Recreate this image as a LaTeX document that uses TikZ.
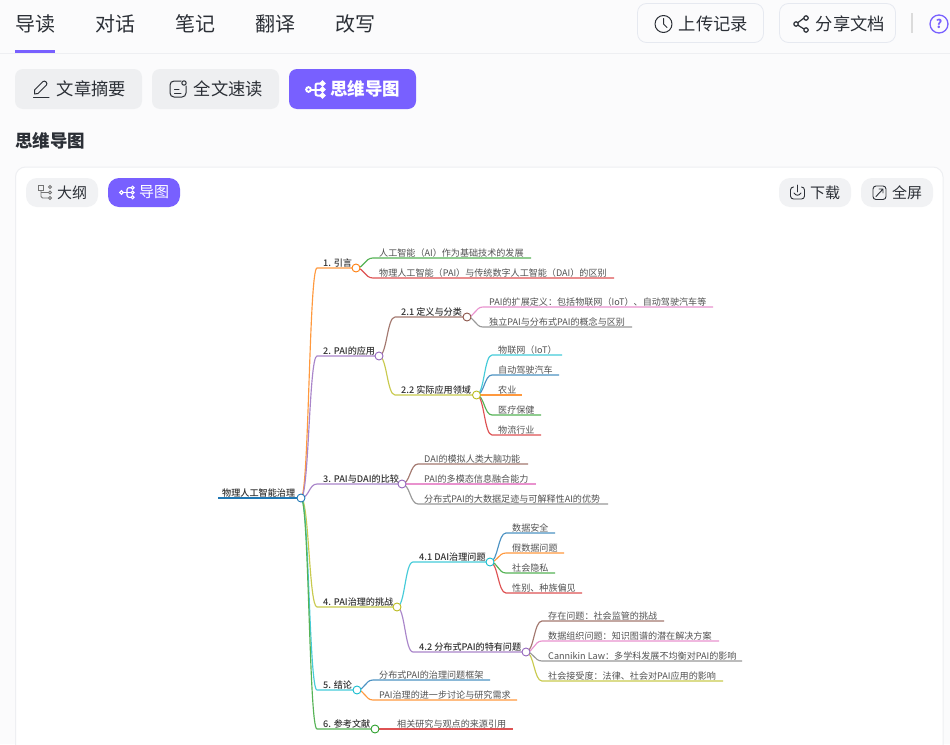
\documentclass[tikz,border=0pt]{standalone}
\usepackage{fontspec}
\setmainfont{Noto Sans CJK SC}
\newfontfamily\mmmed{Noto Sans CJK SC Medium}
\usetikzlibrary{backgrounds,calc}
\definecolor{cblue}{HTML}{1F77B4}
\definecolor{corange}{HTML}{FF7F0E}
\definecolor{cgreen}{HTML}{2CA02C}
\definecolor{cred}{HTML}{D62728}
\definecolor{cpurple}{HTML}{9467BD}
\definecolor{cbrown}{HTML}{8C564B}
\definecolor{cpink}{HTML}{E377C2}
\definecolor{cgray}{HTML}{7F7F7F}
\definecolor{colive}{HTML}{BCBD22}
\definecolor{ccyan}{HTML}{17BECF}
\definecolor{brand}{HTML}{7860FF}
\definecolor{pagebg}{HTML}{FBFBFC}
\definecolor{rulec}{HTML}{EEEFF2}
\definecolor{inkc}{HTML}{2B2F36}
\definecolor{btnc}{HTML}{EEEFF1}
\definecolor{chipc}{HTML}{F1F2F4}
\definecolor{btnline}{HTML}{E6E9F0}
\tikzset{
  tab/.style={anchor=center,inner sep=0pt,font=\fontsize{20}{24}\selectfont,text=inkc},
  btnbox/.style={rounded corners=9pt,draw=btnline,line width=.8pt,fill=pagebg},
  fillbox/.style={rounded corners=8pt,fill=#1},
  chipbox/.style={rounded corners=11pt,fill=#1},
  lbl/.style={anchor=center,inner sep=0pt,font=\fontsize{17.3}{20}\selectfont,text=inkc},
  chiplbl/.style={anchor=center,inner sep=0pt,font=\fontsize{15}{18}\selectfont,text=inkc},
  ico/.style={draw=inkc,line width=1pt,line cap=round,line join=round},
  mmdotstyle/.style={circle,draw=#1,fill=white,line width=.9pt,minimum size=8pt,inner sep=0pt},
  mmleaf/.style={anchor=base west,inner sep=0pt,font=\fontsize{9.08}{11}\selectfont,text=black!68},
  mmhead/.style={anchor=base west,inner sep=0pt,font=\fontsize{9.12}{11}\selectfont\mmmed,text=black!80},
  mmlink/.style={draw=#1!80,line width=1.15pt,line join=round},
}
% name, x, y, colour
\newcommand\mmdot[4]{\node[mmdotstyle=#4] (#1) at (#2,#3) {};}
% name, parent, colour, line y, line x start, line x end, text x, text style, text
\newcommand\mmtopic[9]{%
  \node[#8] (t#1) at (#7,#4-2) {#9};
  \coordinate (s#1) at (#5,#4);
  \coordinate (e#1) at (#6,#4);
  \begin{pgfonlayer}{background}
    \draw[mmlink=#3] let \p1=(#2.center),\p2=(s#1) in
      (#2.center) .. controls ({(\x1+\x2)/2},\y1) and ({(\x1+\x2)/2},\y2) .. (s#1) -- (e#1);
  \end{pgfonlayer}}
% mind icon: x, y, colour, scale, width
\newcommand\mmicon[5]{%
  \begin{scope}[shift={(#1,#2)},scale=#4]
    \draw[draw=#3,line width=#5,rounded corners=2pt] (5.2,-6) -- (0,-6) -- (0,6) -- (5.2,6);
    \draw[draw=#3,line width=#5] (-5,0) -- (5.2,0);
    \foreach \a/\b/\r in {-7/0/2.3,7/-6/1.9,7/0/1.9,7/6/1.9}
      \draw[draw=#3,line width=#5] (\a,\b) circle[radius=\r pt];
  \end{scope}}
\begin{document}
\begin{tikzpicture}[x=1pt,y=-1pt]
\useasboundingbox (0,0) rectangle (950,744);
\begin{pgfonlayer}{background}
\fill[pagebg] (0,0) rectangle (950,744);
% card
\path[fill=white,draw=rulec,line width=1pt] (15.5,745) -- (15.5,177) arc[start angle=180,end angle=90,radius=10pt] -- (933,167) arc[start angle=90,end angle=0,radius=10pt] -- (943,745);
\end{pgfonlayer}
% header
\draw[rulec,line width=1pt] (0,53) -- (950,53);
\fill[brand] (15,50) rectangle (55,53);
\node[tab] (tabA) at (35,24) {导读};
\node[tab] (tabB) at (115,24) {对话};
\node[tab] (tabC) at (195,24) {笔记};
\node[tab] (tabD) at (275,24) {翻译};
\node[tab] (tabE) at (355,24) {改写};
\path[btnbox] (637.5,3.5) rectangle (763.5,42.5);
\path[btnbox] (779.5,3.5) rectangle (895.5,42.5);
\draw[ico] (663.5,24) circle[radius=8.5pt];
\draw[ico] (663.5,18.5) -- (663.5,24) -- (667,27.5);
\node[lbl] (btnUp) at (713.5,24) {上传记录};
\draw[ico,line width=1.2pt] (804,18) -- (796,24) -- (804,29);
\foreach \a/\b in {806/18,796/24,806/30} \draw[ico,line width=1.2pt,fill=pagebg] (\a,\b) circle[radius=2.2pt];
\node[lbl] (btnShare) at (850.5,24) {分享文档};
\fill[black!14] (911,13) rectangle (913,33);
\draw[brand,line width=1.3pt] (939,24) circle[radius=9pt];
\node[anchor=center,inner sep=0pt,text=brand,font=\fontsize{12}{14}\selectfont\bfseries] (helpq) at (939,24) {?};
% second row
\path[fillbox=btnc] (15,69) rectangle (142,109);
\path[fillbox=btnc] (152,69) rectangle (279,109);
\path[fillbox=brand] (289,69) rectangle (416,109);
\draw[ico] (34.5,90) -- (43,81.5) .. controls (45,80) and (48,83) .. (46.5,85) -- (38,93.5) -- (34.5,94) -- cycle;
\draw[ico] (33.5,97) -- (49,97);
\node[lbl] (btnA) at (91.5,88.5) {文章摘要};
\draw[ico,rounded corners=4pt] (181,81) -- (170,81) -- (170,97) -- (186,97) -- (186,86);
\draw[ico] (184,83) circle[radius=2.2pt];
\draw[ico] (174.5,89) -- (179,89) (174.5,93) -- (181,93);
\node[lbl] (btnB) at (228.5,88.5) {全文速读};
\mmicon{315.5}{89.5}{white}{1}{2pt}
\node[lbl,text=white,font=\fontsize{17.5}{20}\selectfont\bfseries] (btnC) at (365,88.5) {思维导图};
\node[anchor=center,inner sep=0pt,text=inkc,font=\fontsize{17.5}{20}\selectfont\bfseries] (heading) at (50,141) {思维导图};
% card chips
\path[chipbox=chipc] (26,178) rectangle (98,207);
\draw[draw=black!55,line width=.9pt] (38,185) rectangle (43,190);
\draw[draw=black!55,line width=.9pt,rounded corners=1.5pt] (41,190) -- (41,198) -- (48,198);
\foreach \b in {187,192.5,198} \draw[draw=black!55,line width=.9pt,fill=chipc] (50,\b) circle[radius=1.6pt];
\draw[draw=black!55,line width=.9pt] (41,192.5) -- (48,192.5);
\node[chiplbl] (chipA) at (72,192.5) {大纲};
\path[chipbox=brand] (108,178) rectangle (180,207);
\mmicon{127}{192.5}{white}{.8}{1.1pt}
\node[chiplbl,text=white] (chipB) at (154,192.5) {导图};
\path[chipbox=chipc] (779,178) rectangle (851,207);
\draw[ico,line width=.9pt,rounded corners=3pt] (793,187) -- (790.5,187) -- (790.5,199) -- (804.5,199) -- (804.5,187) -- (802,187);
\draw[ico,line width=.9pt] (797.5,185) -- (797.5,192);
\draw[ico,line width=.9pt] (794,193) .. controls (796,196) and (799,196) .. (801,193);
\node[chiplbl] (chipC) at (825,192.5) {下载};
\path[chipbox=chipc] (861,178) rectangle (933,207);
\draw[ico,line width=.9pt,rounded corners=3pt] (873,186) rectangle (886,199.5);
\draw[ico,line width=.9pt] (876,196.5) -- (883,189) (879,189) -- (883,189) -- (883,193);
\node[chiplbl] (chipD) at (907,192.5) {全屏};
% mind map dots (drawn on top of the links)
\mmdot{root}{301}{498}{cblue}
\mmdot{d1}{356}{268}{corange}
\mmdot{d2}{379}{356}{cpurple}
\mmdot{d3}{402}{484}{cpurple}
\mmdot{d4}{397}{607}{colive}
\mmdot{d5}{357}{690}{ccyan}
\mmdot{d6}{375}{729}{cgreen}
\mmdot{d21}{467}{317}{cbrown}
\mmdot{d22}{476.5}{395}{colive}
\mmdot{d41}{490}{562}{ccyan}
\mmdot{d42}{526}{652}{cpurple}
% root
\node[mmhead] (troot) at (222,496) {物理人工智能治理};
\coordinate (srootline) at (218,498);
\begin{pgfonlayer}{background}
\draw[draw=cblue,line width=1.4pt] (srootline) -- (root.center);
\end{pgfonlayer}
% level 1
\mmtopic{1}{root}{corange}{268}{317}{356}{323}{mmhead}{1. 引言}
\mmtopic{2}{root}{cpurple}{356}{317}{379}{323}{mmhead}{2. PAI的应用}
\mmtopic{3}{root}{cpurple}{484}{317}{402}{323}{mmhead}{3. PAI与DAI的比较}
\mmtopic{4}{root}{colive}{607}{317}{397}{323}{mmhead}{4. PAI治理的挑战}
\mmtopic{5}{root}{ccyan}{690}{317}{357}{323}{mmhead}{5. 结论}
\mmtopic{6}{root}{cgreen}{729}{317}{375}{323}{mmhead}{6. 参考文献}
% 1
\mmtopic{11}{d1}{cgreen}{258}{373}{531}{379}{mmleaf}{人工智能（AI）作为基础技术的发展}
\mmtopic{12}{d1}{cred}{278}{373}{614}{379}{mmleaf}{物理人工智能（PAI）与传统数字人工智能（DAI）的区别}
% 2
\mmtopic{21}{d2}{cbrown}{317}{395}{467}{401}{mmhead}{2.1 定义与分类}
\mmtopic{22}{d2}{colive}{395}{395}{476.5}{401}{mmhead}{2.2 实际应用领域}
\mmtopic{211}{d21}{cpink}{307}{483}{713}{489}{mmleaf}{PAI的扩展定义：包括物联网（IoT）、自动驾驶汽车等}
\mmtopic{212}{d21}{cgray}{327}{483}{632}{489}{mmleaf}{独立PAI与分布式PAI的概念与区别}
\mmtopic{221}{d22}{ccyan}{355}{492}{562}{498}{mmleaf}{物联网（IoT）}
\mmtopic{222}{d22}{cblue}{375}{492}{559}{498}{mmleaf}{自动驾驶汽车}
\mmtopic{223}{d22}{corange}{395}{492}{522}{498}{mmleaf}{农业}
\mmtopic{224}{d22}{cgreen}{415}{492}{541}{498}{mmleaf}{医疗保健}
\mmtopic{225}{d22}{cred}{435}{492}{541}{498}{mmleaf}{物流行业}
% 3
\mmtopic{31}{d3}{cbrown}{464}{418}{528}{424}{mmleaf}{DAI的模拟人类大脑功能}
\mmtopic{32}{d3}{cpink}{484}{418}{536}{424}{mmleaf}{PAI的多模态信息融合能力}
\mmtopic{33}{d3}{cgray}{504}{418}{608}{424}{mmleaf}{分布式PAI的大数据足迹与可解释性AI的优势}
% 4
\mmtopic{41}{d4}{ccyan}{562}{413}{490}{419}{mmhead}{4.1 DAI治理问题}
\mmtopic{42}{d4}{cpurple}{652}{413}{526}{419}{mmhead}{4.2 分布式PAI的特有问题}
\mmtopic{411}{d41}{cblue}{533}{506}{555}{512}{mmleaf}{数据安全}
\mmtopic{412}{d41}{corange}{553}{506}{564}{512}{mmleaf}{假数据问题}
\mmtopic{413}{d41}{cgreen}{573}{506}{555}{512}{mmleaf}{社会隐私}
\mmtopic{414}{d41}{cred}{593}{506}{582}{512}{mmleaf}{性别、种族偏见}
\mmtopic{421}{d42}{cbrown}{621}{542}{664}{548}{mmleaf}{存在问题：社会监管的挑战}
\mmtopic{422}{d42}{cpink}{641}{542}{719}{548}{mmleaf}{数据组织问题：知识图谱的潜在解决方案}
\mmtopic{423}{d42}{cgray}{661}{542}{742}{548}{mmleaf}{Cannikin Law：多学科发展不均衡对PAI的影响}
\mmtopic{424}{d42}{colive}{681}{542}{723}{548}{mmleaf}{社会接受度：法律、社会对PAI应用的影响}
% 5
\mmtopic{51}{d5}{cblue}{680}{373}{490}{379}{mmleaf}{分布式PAI的治理问题框架}
\mmtopic{52}{d5}{corange}{700}{373}{517}{379}{mmleaf}{PAI治理的进一步讨论与研究需求}
% 6
\mmtopic{61}{d6}{cred}{729}{391}{513}{397}{mmleaf}{相关研究与观点的来源引用}
\end{tikzpicture}
\end{document}
